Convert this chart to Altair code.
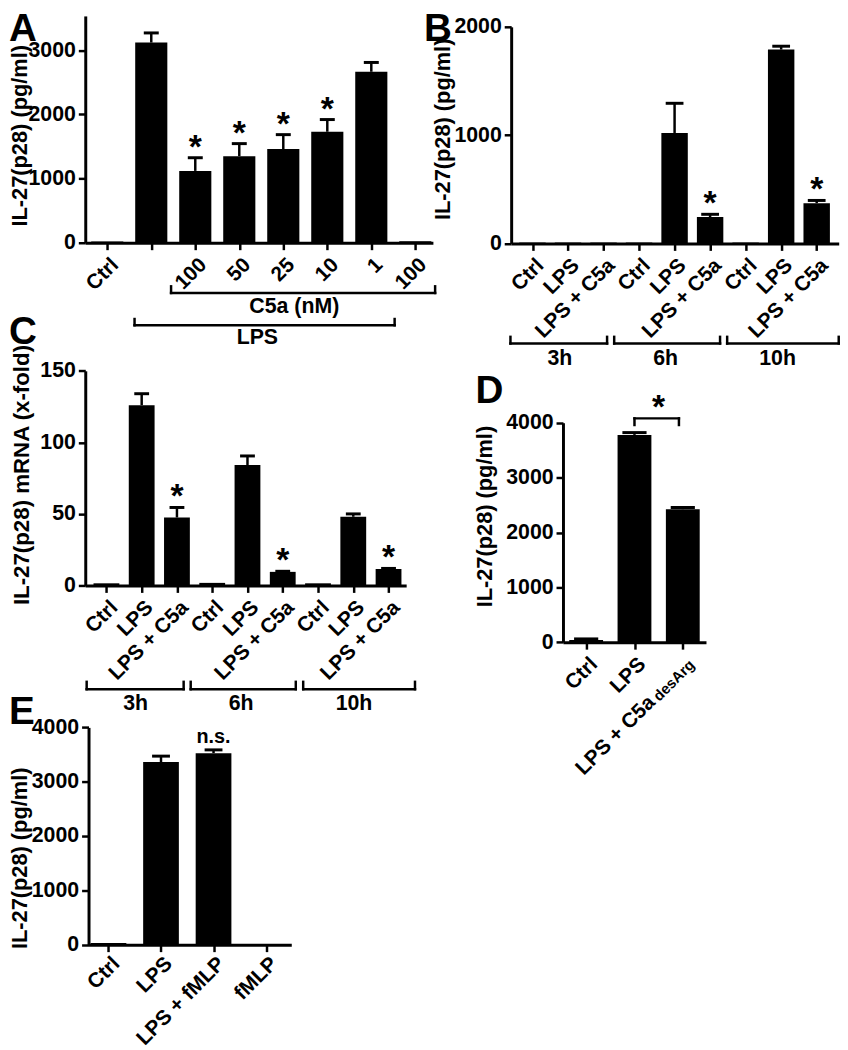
import json
import altair as alt
import pandas as pd

M = 8  # page margin (page coords -> chart coords)
FONT = "Liberation Sans"

# ---------------- data ----------------
a_labels = ["Ctrl", "", "100", "50", "25", "10", "1", "100"]
a_values = [20, 3120, 1120, 1350, 1460, 1730, 2665, 25]
a_sem = [0, 150, 205, 195, 225, 190, 145, 0]
a_star = [0, 0, 1, 1, 1, 1, 0, 0]

b_labels = ["Ctrl", "LPS", "LPS + C5a"] * 3
b_values = [8, 8, 8, 8, 1020, 244, 8, 1790, 372]
b_sem = [0, 0, 0, 0, 274, 25, 0, 31, 25]
b_star = [0, 0, 0, 0, 0, 1, 0, 0, 1]

c_labels = ["Ctrl", "LPS", "LPS + C5a"] * 3
c_values = [1.5, 126, 47.5, 1.8, 84.2, 9.5, 1.5, 48, 11.5]
c_sem = [0, 8, 7, 0, 6.3, 0.4, 0, 2, 0.4]
c_star = [0, 0, 1, 0, 0, 1, 0, 0, 1]

d_labels = ["Ctrl", "LPS", ""]
d_values = [40, 3778, 2424]
d_sem = [20, 42, 31]
d_star = [0, 0, 0]
d_long_label = "LPS + C5a"
d_sub_label = "desArg"

e_labels = ["Ctrl", "LPS", "LPS + fMLP", "fMLP"]
e_values = [30, 3362, 3526, 15]
e_sem = [0, 109, 60, 0]
e_star = [0, 0, 0, 0]
e_note = ["", "", "n.s.", ""]

# group brackets (category-index spans)
a_grp1 = ["C5a (nM)"]; a_grp1_from = [1.45]; a_grp1_to = [7.45]; a_grp1_mid = [4.25]
a_grp2 = ["LPS"]; a_grp2_from = [0.62]; a_grp2_to = [6.53]; a_grp2_mid = [3.41]
b_grp = ["3h", "6h", "10h"]; b_grp_from = [-0.62, 2.30, 5.48]; b_grp_to = [2.10, 5.28, 8.62]; b_grp_mid = [0.77, 3.75, 6.9]
c_grp = ["3h", "6h", "10h"]; c_grp_from = [-0.56, 2.39, 5.58]; c_grp_to = [2.19, 5.37, 8.75]; c_grp_mid = [0.83, 3.82, 7.02]
d_sig = ["*"]; d_sig_from = [1.0]; d_sig_to = [1.92]; d_sig_mid = [1.5]

y_title = "IL-27(p28) (pg/ml)"
c_title = "IL-27(p28) mRNA (x-fold)"

W, H = 840, 1042


def sx(dom, rng):
    return alt.Scale(domain=dom, range=[rng[0] - M, rng[1] - M], nice=False, zero=False)


def sy(dom, rng):
    return alt.Scale(domain=dom, range=[rng[0] - M, rng[1] - M], nice=False, zero=False)


def panel(labels, values, sem, star, xdom, xrng, ydom, yrng, yticks, title,
          tx, ty, tsize, hw, cw, note=None, lpad=4):
    n = len(labels)
    df = pd.DataFrame({"idx": list(range(n)), "label": labels, "value": values,
                       "sem": sem, "star": star,
                       "note": note if note else [""] * n})
    xs = sx(xdom, xrng)
    ys = sy(ydom, yrng)
    xaxis = alt.Axis(orient="bottom", offset=(yrng[0] - M) - H, values=list(range(n)),
                     labelExpr=json.dumps(labels) + "[datum.value]", title=None,
                     labelAngle=315, labelAlign="right", labelBaseline="top",
                     labelPadding=lpad)
    yaxis = alt.Axis(orient="left", offset=-(xrng[0] - M), values=yticks, format="d",
                     title=title, titleX=tx - xrng[0], titleY=ty - M,
                     titleFontSize=tsize, titleBaseline="middle", titleAlign="center")
    base = alt.Chart(df).transform_calculate(
        x1=f"datum.idx - {hw}", x2=f"datum.idx + {hw}",
        c1=f"datum.idx - {cw}", c2=f"datum.idx + {cw}",
        top="datum.value + datum.sem", zero="0")
    bars = base.mark_bar(color="black").encode(
        x=alt.X("x1:Q", scale=xs, axis=xaxis), x2="x2:Q",
        y=alt.Y("value:Q", scale=ys, axis=yaxis), y2="zero:Q")
    err = base.transform_filter("datum.sem > 0").mark_rule(color="black", strokeWidth=2.5).encode(
        x=alt.X("idx:Q", scale=xs, axis=None),
        y=alt.Y("value:Q", scale=ys, axis=None), y2="top:Q")
    cap = base.transform_filter("datum.sem > 0").mark_rule(color="black", strokeWidth=3).encode(
        x=alt.X("c1:Q", scale=xs, axis=None), x2="c2:Q",
        y=alt.Y("top:Q", scale=ys, axis=None))
    stars = base.transform_filter("datum.star == 1").mark_text(
        text="*", fontSize=34, fontWeight="bold", font=FONT, color="black",
        baseline="alphabetic", align="center").encode(
        x=alt.X("idx:Q", scale=xs, axis=None), y=alt.Y("top:Q", scale=ys, axis=None))
    out = [bars, err, cap, stars]
    if note:
        out.append(base.transform_filter("datum.note != ''").mark_text(
            fontSize=20, fontWeight="bold", font=FONT, color="black",
            baseline="alphabetic", align="center", dy=-7).encode(
            x=alt.X("idx:Q", scale=xs, axis=None), y=alt.Y("top:Q", scale=ys, axis=None),
            text="note:N"))
    return out, xs, ys


def brackets(names, frm, to, mid, xs, y_line, y_tick, y_text, size=21.5):
    df = pd.DataFrame({"name": names, "start": frm, "end": to, "mid": mid})
    c = alt.Chart(df)
    line = c.mark_rule(color="black", strokeWidth=2.5, strokeCap="square").encode(
        x=alt.X("start:Q", scale=xs, axis=None), x2="end:Q", y=alt.value(y_line - M))
    ends = c.transform_fold(["start", "end"], as_=["side", "pos"]).mark_rule(
        color="black", strokeWidth=2.5, strokeCap="square").encode(
        x=alt.X("pos:Q", scale=xs, axis=None), y=alt.value(y_tick - M), y2=alt.value(y_line - M))
    txt = c.mark_text(fontSize=size, fontWeight="bold", font=FONT, color="black",
                      baseline="alphabetic", align="center").encode(
        x=alt.X("mid:Q", scale=xs, axis=None), y=alt.value(y_text - M), text="name:N")
    return [line, ends, txt]


def letter(ch, x, y):
    return alt.Chart(pd.DataFrame({"t": [ch]})).mark_text(
        fontSize=39, fontWeight="bold", font=FONT, color="black",
        align="left", baseline="alphabetic").encode(
        x=alt.value(max(x - M, 1)), y=alt.value(y - M), text="t:N")


layers = []

# Panel A
la, xa, ya = panel(a_labels, a_values, a_sem, a_star, [-0.5, 7.4], [86, 437], [0, 3535], [240, 11],
                   [0, 1000, 2000, 3000], y_title, 19.5, 131.5, 22, 0.365, 0.17)
layers += la
layers += brackets(a_grp1, a_grp1_from, a_grp1_to, a_grp1_mid, xa, 290.7, 284, 310.7)
layers += brackets(a_grp2, a_grp2_from, a_grp2_to, a_grp2_mid, xa, 323.3, 317, 342.7)

# Panel B
lb, xb, yb = panel(b_labels, b_values, b_sem, b_star, [-0.6, 8.62], [516, 846.7], [0, 2000], [240.7, 22],
                   [0, 1000, 2000], y_title, 447, 125, 22, 0.372, 0.25)
layers += lb
layers += brackets(b_grp, b_grp_from, b_grp_to, b_grp_mid, xb, 341.7, 335, 363.3)

# Panel C
lc, xc, yc = panel(c_labels, c_values, c_sem, c_star, [-0.6, 8.5], [86, 410], [0, 150], [586, 369.3],
                   [0, 50, 100, 150], c_title, 21.5, 474, 22.5, 0.366, 0.21)
layers += lc
layers += brackets(c_grp, c_grp_from, c_grp_to, c_grp_mid, xc, 690.7, 683.3, 711.7)

# Panel D
ld, xd, yd = panel(d_labels, d_values, d_sem, d_star, [-0.48, 2.48], [568.3, 712.7], [0, 4000], [643.3, 421.7],
                   [0, 1000, 2000, 3000, 4000], y_title, 489, 516, 22, 0.35, 0.25)
layers += ld
layers += brackets(d_sig, d_sig_from, d_sig_to, d_sig_mid, xd, 417.3, 424, 417, size=34)
dlab = pd.DataFrame({"idx": [2], "main": [d_long_label], "sub": [d_sub_label]})
anchor_y = 643.3 - M + 7 + 4
layers.append(alt.Chart(dlab).mark_text(
    fontSize=21, fontWeight="bold", font=FONT, color="black", angle=315,
    align="right", baseline="top", dx=-55).encode(
    x=alt.X("idx:Q", scale=xd, axis=None), y=alt.value(anchor_y), text="main:N"))
layers.append(alt.Chart(dlab).mark_text(
    fontSize=15, fontWeight="bold", font=FONT, color="black", angle=315,
    align="right", baseline="top", dy=6).encode(
    x=alt.X("idx:Q", scale=xd, axis=None), y=alt.value(anchor_y), text="sub:N"))

# Panel E
le, xe, ye = panel(e_labels, e_values, e_sem, e_star, [-0.38, 3.48], [89.3, 294], [0, 4000], [948.7, 729.3],
                   [0, 1000, 2000, 3000, 4000], y_title, 20, 861, 22, 0.34, 0.17, note=e_note, lpad=1)
layers += le

# panel letters
layers += [letter("A", 7, 36.5), letter("B", 428, 36.5), letter("C", 2, 342),
           letter("D", 480, 402), letter("E", 2, 726)]

chart = alt.layer(*layers).resolve_scale(x="independent", y="independent").properties(
    width=W, height=H, autosize=alt.AutoSizeParams(type="none"), padding=0
).configure_view(stroke=None).configure_axis(
    grid=False, domainColor="black", domainWidth=3, tickColor="black", tickWidth=2.5,
    tickSize=7, labelColor="black", labelFont=FONT, labelFontWeight="bold",
    titleColor="black", titleFont=FONT, titleFontWeight="bold",
    labelOverlap=False, labelFlush=False
).configure_axisX(labelFontSize=21).configure_axisY(labelFontSize=21.5, labelPadding=3)

chart.save("out.html", embed_options={"renderer": "svg", "actions": False})
